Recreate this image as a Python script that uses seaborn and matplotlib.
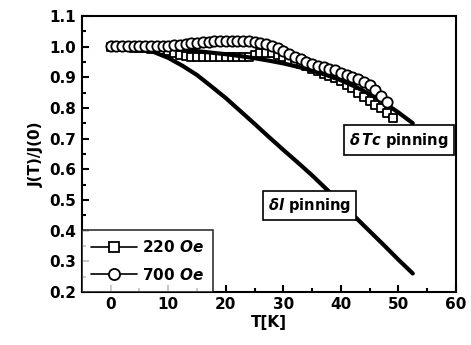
import numpy as np
import pandas as pd
import seaborn as sns
import matplotlib
matplotlib.use("Agg")
import matplotlib.pyplot as plt
from matplotlib.lines import Line2D
from matplotlib.ticker import MultipleLocator

# ---- data ----
T_220 = list(range(0, 50))
J_220 = [1.000, 0.999, 0.998, 0.997, 0.996, 0.995, 0.994, 0.993, 0.992, 0.990,
         0.986, 0.980, 0.972, 0.968, 0.966, 0.965, 0.965, 0.965, 0.965, 0.965,
         0.965, 0.965, 0.965, 0.965, 0.966, 0.972, 0.978, 0.980, 0.978, 0.972,
         0.965, 0.957, 0.950, 0.942, 0.935, 0.928, 0.920, 0.912, 0.904, 0.896,
         0.887, 0.876, 0.864, 0.850, 0.836, 0.822, 0.810, 0.798, 0.784, 0.768]

T_700 = list(range(0, 49))
J_700 = [1.003, 1.003, 1.002, 1.002, 1.001, 1.001, 1.001, 1.001, 1.001, 1.002,
         1.003, 1.004, 1.006, 1.008, 1.010, 1.012, 1.014, 1.016, 1.017, 1.018,
         1.018, 1.018, 1.018, 1.018, 1.017, 1.016, 1.013, 1.008, 1.002, 0.994,
         0.985, 0.976, 0.967, 0.958, 0.950, 0.944, 0.938, 0.933, 0.928, 0.922,
         0.915, 0.908, 0.900, 0.893, 0.884, 0.873, 0.858, 0.840, 0.818]

T_curve = [0, 2.5, 5, 7.5, 10, 12.5, 15, 17.5, 20, 22.5, 25, 27.5, 30, 32.5,
           35, 37.5, 40, 42.5, 45, 47.5, 50, 52.5]
J_dTc = [1.000, 0.9995, 0.998, 0.996, 0.993, 0.989, 0.985, 0.980, 0.975, 0.969,
         0.962, 0.954, 0.945, 0.934, 0.922, 0.907, 0.890, 0.869, 0.845, 0.817,
         0.785, 0.750]
J_dl = [1.000, 0.999, 0.993, 0.982, 0.963, 0.937, 0.907, 0.870, 0.832, 0.790,
        0.748, 0.705, 0.663, 0.622, 0.580, 0.535, 0.490, 0.444, 0.398, 0.352,
        0.305, 0.260]

x_ticks = [0, 10, 20, 30, 40, 50, 60]
y_ticks = [0.2, 0.3, 0.4, 0.5, 0.6, 0.7, 0.8, 0.9, 1.0, 1.1]

sns.set_style("ticks")
plt.rcParams["font.family"] = ["DejaVu Sans"]
plt.rcParams["font.weight"] = "bold"
plt.rcParams["mathtext.fontset"] = "dejavusans"
plt.rcParams["text.color"] = "black"
plt.rcParams["axes.labelcolor"] = "black"
plt.rcParams["xtick.color"] = "black"
plt.rcParams["ytick.color"] = "black"
plt.rcParams["axes.edgecolor"] = "black"

fig = plt.figure(figsize=(4.71, 3.45), dpi=100)
ax = fig.add_axes([0.174, 0.154, 0.794, 0.800])

df220 = pd.DataFrame({"T": T_220, "J": J_220})
df700 = pd.DataFrame({"T": T_700, "J": J_700})
dfc = pd.DataFrame({"T": T_curve, "dTc": J_dTc, "dl": J_dl})

sns.scatterplot(data=df220, x="T", y="J", marker="s", s=36, facecolor="white",
                edgecolor="black", linewidth=1.3, ax=ax, zorder=3)
sns.lineplot(data=dfc, x="T", y="dTc", color="black", linewidth=3, ax=ax, zorder=4)
sns.scatterplot(data=df700, x="T", y="J", marker="o", s=55, facecolor="white",
                edgecolor="black", linewidth=1.3, ax=ax, zorder=5)
sns.lineplot(data=dfc, x="T", y="dl", color="black", linewidth=3, ax=ax, zorder=4)

ax.set_xlim(-5, 60)
ax.set_ylim(0.2, 1.1)
ax.set_xticks(x_ticks)
ax.set_yticks(y_ticks)
ax.set_xticklabels([str(v) for v in x_ticks])
ax.set_yticklabels([f"{v:.1f}" for v in y_ticks])
ax.xaxis.set_minor_locator(MultipleLocator(5))
ax.yaxis.set_minor_locator(MultipleLocator(0.05))
ax.tick_params(which="major", direction="in", length=5, width=1.5, labelsize=11,
               top=False, right=False, pad=4)
ax.tick_params(which="minor", direction="in", length=3, width=1.5,
               top=False, right=False)
for lab in ax.get_xticklabels() + ax.get_yticklabels():
    lab.set_fontweight("bold")
for sp in ax.spines.values():
    sp.set_linewidth(1.5)
    sp.set_visible(True)
    sp.set_color("black")

ax.set_xlabel("T[K]", fontsize=11, fontweight="bold", labelpad=2)
ax.set_ylabel("J(T)/J(0)", fontsize=11, fontweight="bold", labelpad=4)

bbox = dict(boxstyle="square,pad=0.35", facecolor="white", edgecolor="black", linewidth=1.2)
ax.text(50.1, 0.695, r"$\delta\,Tc$ pinning", ha="center", va="center",
        fontsize=10.5, fontweight="bold", bbox=bbox, zorder=6)
ax.text(34.5, 0.482, r"$\delta l$ pinning", ha="center", va="center",
        fontsize=10.5, fontweight="bold", bbox=bbox, zorder=6)

handles = [
    Line2D([], [], color="black", linewidth=1.2, marker="s", markersize=7,
           markerfacecolor="white", markeredgecolor="black", markeredgewidth=1.3),
    Line2D([], [], color="black", linewidth=1.2, marker="o", markersize=8,
           markerfacecolor="white", markeredgecolor="black", markeredgewidth=1.3),
]
leg_labels = [r"220 $\it{Oe}$", r"700 $\it{Oe}$"]
leg = ax.legend(handles, leg_labels, loc="lower left", bbox_to_anchor=(0, 0),
                borderaxespad=0, frameon=True, fancybox=False, numpoints=1,
                handlelength=3.0, fontsize=11, labelspacing=0.75,
                borderpad=0.6, handletextpad=0.35)
leg.get_frame().set_edgecolor("black")
leg.get_frame().set_linewidth(1.2)
for t in leg.get_texts():
    t.set_fontweight("bold")

fig.savefig("out.png", dpi=100)
